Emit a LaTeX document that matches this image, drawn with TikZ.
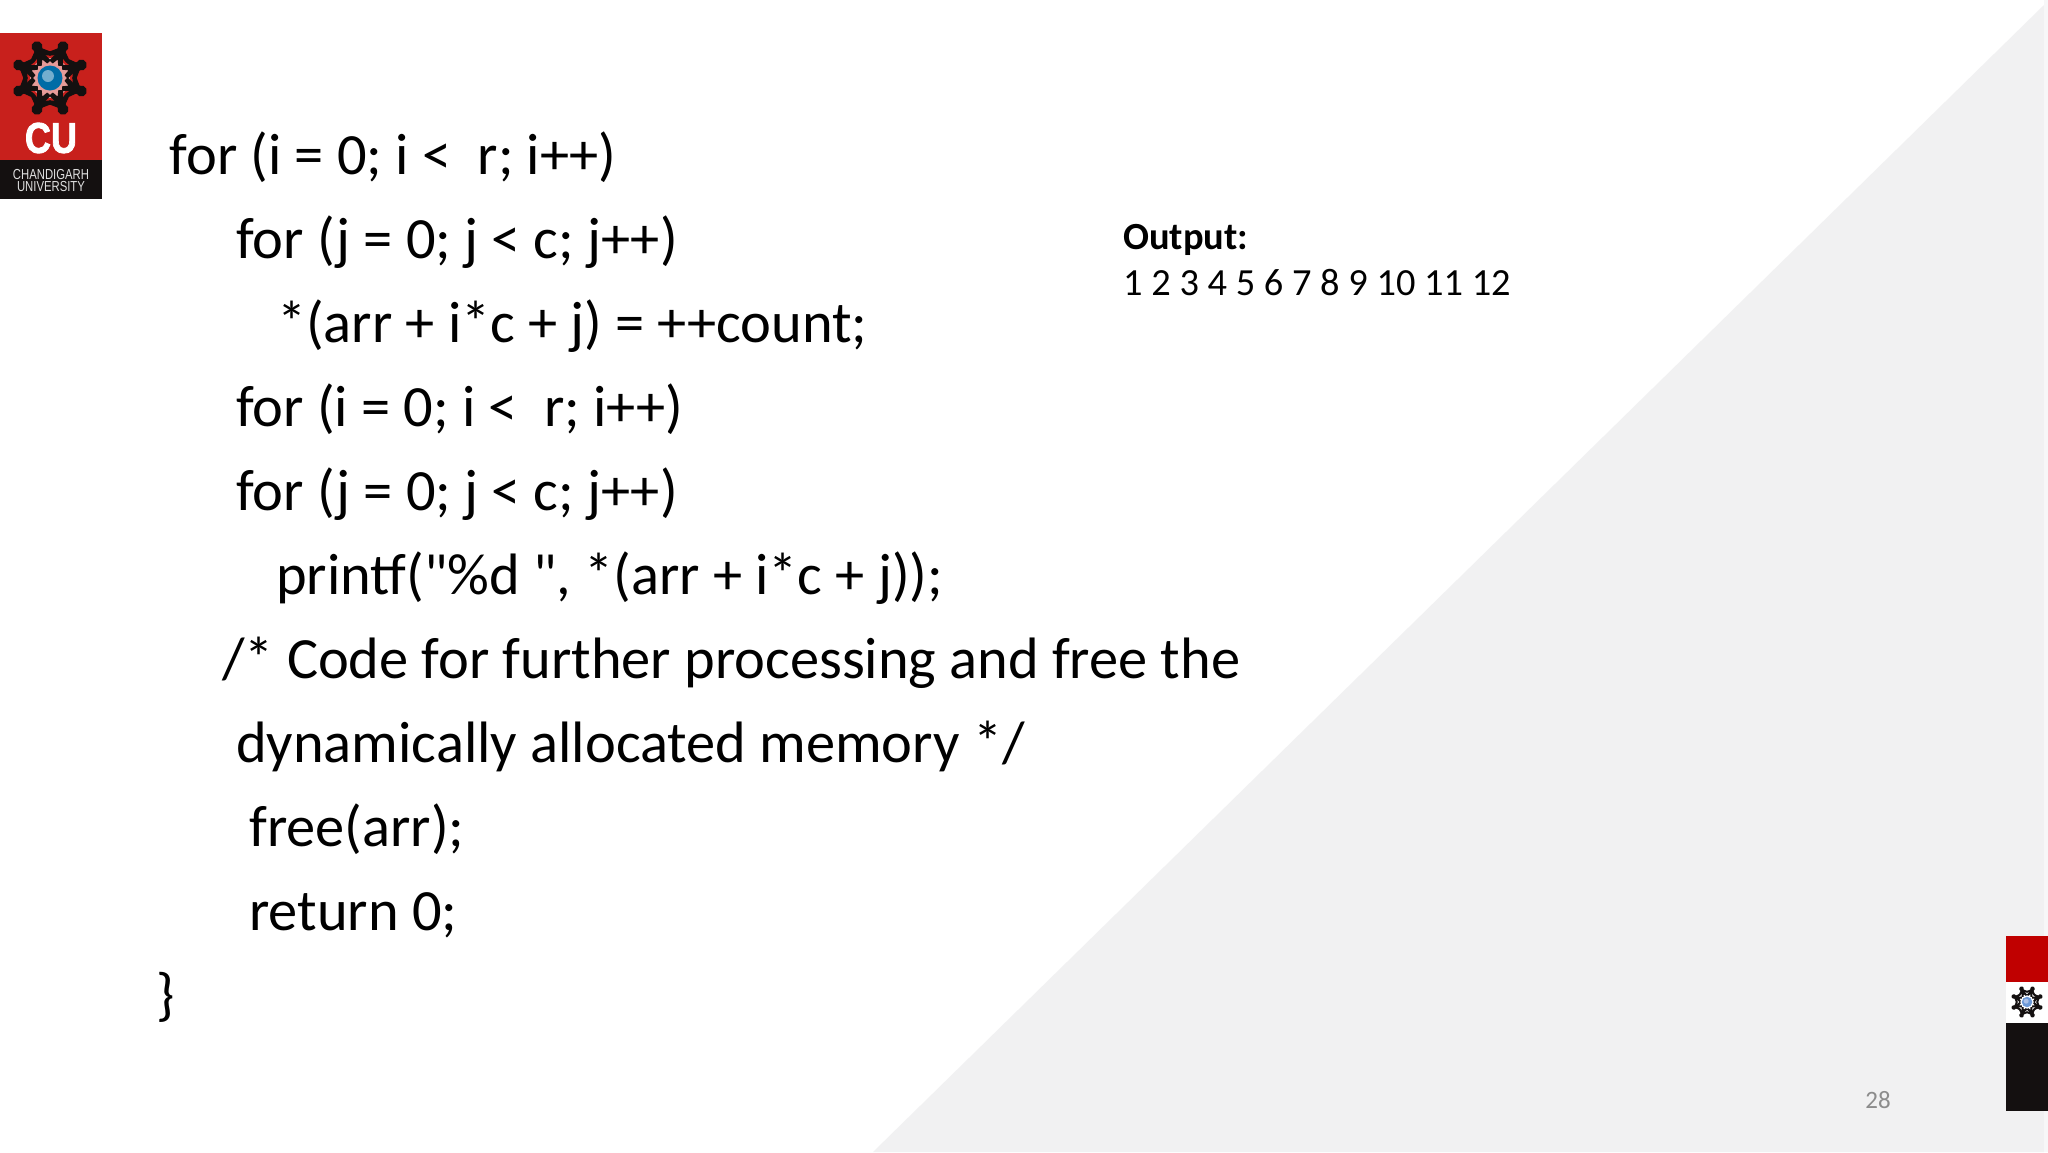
\documentclass[tikz,border=0pt]{standalone}
\usepackage{fontspec}
\setmainfont{Carlito}
\newfontfamily\codefont{Carlito}
\newfontfamily\logofont{Liberation Sans}
\definecolor{tri}{HTML}{F1F1F2}
\definecolor{strip}{HTML}{F7F7F8}
\definecolor{cured}{HTML}{C8201C}
\definecolor{stripred}{HTML}{C00000}
\definecolor{dark}{HTML}{141010}
\definecolor{pagenum}{HTML}{8C8C8C}
\tikzset{
  code/.style={anchor=base west,inner sep=0pt,font=\codefont\fontsize{58.4}{64}\selectfont,text=black},
  outtext/.style={anchor=base west,inner sep=0pt,font=\codefont\fontsize{38.4}{44}\selectfont,text=black},
}
\newcommand{\wreath}[3]{% centre, scale, colour of globe
  \begin{scope}[shift={#1},scale=#2]
    \foreach \a in {22.5,67.5,...,337.5}{
      \begin{scope}[rotate=\a]
        \fill[dark] (0,-34) circle (5.5);
        \fill[dark] (-4.5,-31) -- (4.5,-31) -- (4,-24) -- (7.5,-16) -- (3,-14.5) -- (0,-20) -- (-3,-14.5) -- (-7.5,-16) -- (-4,-24) -- cycle;
        \fill[dark] (-4.5,-30) -- (4.5,-30) -- (12,-23) -- (9,-20.5) -- (0,-25) -- (-9,-20.5) -- (-12,-23) -- cycle;
      \end{scope}
    }
    \fill[#3] (0,0) circle (12.5);
    \fill[#3!55!white] (-2,-2) circle (6);
  \end{scope}
}
\begin{document}
\begin{tikzpicture}[x=1pt,y=-1pt,line cap=butt]
\useasboundingbox (0,0) rectangle (2048,1152);
\fill[white] (0,0) rectangle (2048,1152);
% background triangle
\fill[tri] (873,1152) -- (2044,5) -- (2044,1152) -- cycle;
\fill[strip] (2044,0) rectangle (2048,936);
\fill[strip] (2044,1111) rectangle (2048,1152);
% logo
\fill[cured] (0,33) rectangle (102,160);
\fill[cured!45!white] (50,78) circle (20);
\fill[dark] (0,160) rectangle (102,199);
\wreath{(50,78)}{1}{blue!35!cyan!65!black}
\node[inner sep=0pt,text=white] (cu) at (51,138) {\logofont\bfseries\addfontfeature{FakeBold=2}\fontsize{43}{43}\selectfont\scalebox{.84}[1]{CU}};
\node[inner sep=0pt,text=white!88!black,align=center] (cuname) at (51,180.5) {\logofont\fontsize{14.5}{15.5}\selectfont\scalebox{.78}[1]{CHANDIGARH}\\\logofont\fontsize{14.5}{15.5}\selectfont\scalebox{.78}[1]{UNIVERSITY}};
% code
\node[code] (l1) at (169.5,174) {for (i = 0; i <\ \ r; i++)};
\node[code] (l2) at (236,258) {for (j = 0; j < c; j++)};
\node[code] (l3) at (277,342) {*(arr + i*c + j) = ++count;};
\node[code] (l4) at (236,426) {for (i = 0; i <\ \ r; i++)};
\node[code] (l5) at (236,510) {for (j = 0; j < c; j++)};
\node[code] (l6) at (276,594) {printf("\%d ", *(arr + i*c + j));};
\node[code] (l7) at (222,678) {/* Code for further processing and free the};
\node[code] (l8) at (236,762) {dynamically allocated memory */};
\node[code] (l9) at (249,846) {free(arr);};
\node[code] (l10) at (249,930) {return 0;};
\node[code] (l11) at (156,1014) {\}};
% output
\node[outtext] (o1) at (1123,249) {\bfseries Output:};
\node[outtext] (o2) at (1123,295) {1 2 3 4 5 6 7 8 9 10 11 12};
% page number
\node[inner sep=0pt,text=pagenum,font=\codefont\fontsize{25}{28}\selectfont] (pg) at (1878,1100) {28};
% right strip
\fill[stripred] (2006,936) rectangle (2048,982);
\fill[white] (2006,982) rectangle (2048,1023);
\fill[dark] (2006,1023) rectangle (2048,1111);
\wreath{(2027,1002)}{.42}{cyan!50!blue!60!white}
\end{tikzpicture}
\end{document}
